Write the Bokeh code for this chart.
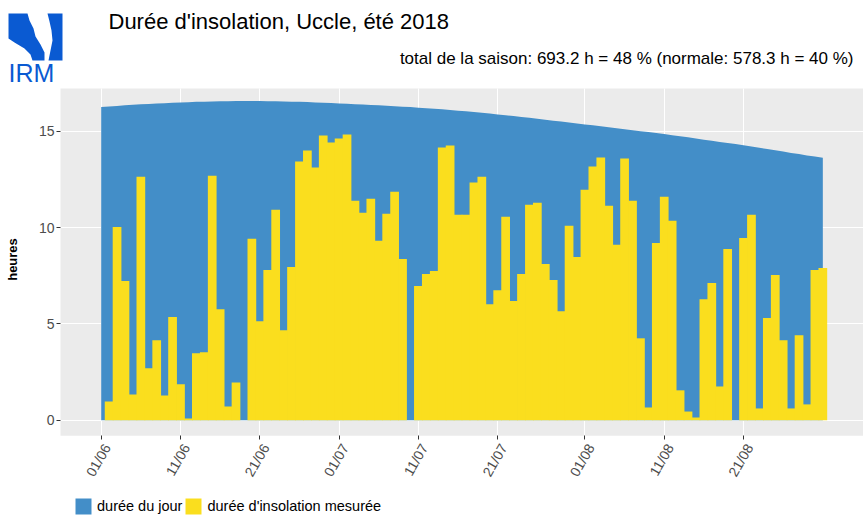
import math
from bokeh.plotting import figure
from bokeh.models import Range1d, FixedTicker, Label, Legend, LegendItem, PolyAnnotation
from bokeh.core.properties import value
from bokeh.embed import file_html
from bokeh.resources import INLINE

# ---------------- data ----------------
days = list(range(92))  # 0 = 01/06/2018 ... 91 = 31/08/2018
tick_days = [0, 10, 20, 30, 40, 50, 61, 71, 81]
tick_labels = ["01/06", "11/06", "21/06", "01/07", "11/07", "21/07", "01/08", "11/08", "21/08"]
y_ticks = [0, 5, 10, 15]

sunshine = [
    0.0, 0.97, 10.03, 7.22, 1.34, 12.64, 2.69, 4.15, 1.28, 5.35, 1.86, 0.09, 3.47, 3.52, 12.69,
    5.76, 0.71, 1.96, 0.0, 9.41, 5.14,
    7.80, 10.92, 4.67, 7.95, 13.42, 13.99, 13.11, 14.77, 14.41, 14.62, 14.83, 11.39, 10.76, 11.49,
    9.31, 10.71, 11.86, 8.37, 0.0, 6.96, 7.59, 7.74, 14.15, 14.25,
    10.66, 10.66, 12.33, 12.64, 6.02, 6.75, 10.56, 6.18, 7.59, 11.18, 11.28, 8.11, 7.27, 5.66,
    10.09, 8.47, 11.96, 13.16, 13.63, 11.13, 9.10, 13.58, 11.39,
    4.25, 0.66, 9.20, 11.60, 10.35, 1.55, 0.45, 0.14, 6.28, 7.12, 1.75, 8.89, 0.0, 9.46, 10.66,
    0.61, 5.30, 7.53, 4.15, 0.61, 4.41, 0.82, 7.80, 7.90,
]

daylength = [
    16.25, 16.28, 16.31, 16.34, 16.37, 16.39, 16.41, 16.43, 16.45, 16.47, 16.49, 16.50, 16.52,
    16.53, 16.54, 16.55, 16.55, 16.56, 16.56, 16.56, 16.56,
    16.55, 16.55, 16.54, 16.53, 16.52, 16.51, 16.49, 16.48, 16.46, 16.44,
    16.42, 16.40, 16.38, 16.36, 16.34, 16.32, 16.29, 16.27, 16.25,
    16.22, 16.19, 16.16, 16.13, 16.10, 16.06, 16.03, 15.99, 15.95, 15.91, 15.87,
    15.83, 15.78, 15.74, 15.69, 15.64, 15.59, 15.54, 15.50, 15.45, 15.40,
    15.35, 15.30, 15.25, 15.20, 15.15, 15.10, 15.05, 15.00, 14.95, 14.90, 14.85, 14.79, 14.73,
    14.68, 14.62, 14.56, 14.50, 14.44, 14.39, 14.33, 14.27, 14.20, 14.14, 14.07, 14.01, 13.94,
    13.87, 13.81, 13.74, 13.68, 13.62,
]

title_text = "Durée d'insolation, Uccle, été 2018"
subtitle_text = "total de la saison: 693.2 h = 48 % (normale: 578.3 h = 40 %)"
legend_labels = ["durée du jour", "durée d'insolation mesurée"]

# ---------------- style / layout ----------------
BLUE = "#438EC8"
YELLOW = "#FADE1E"
LOGO_BLUE = "#0A5AD2"
PANEL = "#EBEBEB"
FONT = "Liberation Sans"

W, H = 863, 518
DAY0_PX, PX_DAY = 100.7, 7.93      # page x of day 0, pixels per day
ZERO_PY, PX_H = 419.7, 19.27       # page y of 0 h, pixels per hour
PANEL_L, PANEL_T, PANEL_B = 60, 88, 435.3
LBL_SHIFT = 8                      # compensation for Label baseline placement


def X(px):
    return (px - DAY0_PX) / PX_DAY


def Y(py):
    return (ZERO_PY - py) / PX_H


p = figure(width=W, height=H, x_range=Range1d(X(0), X(W)), y_range=Range1d(Y(H), Y(0)),
           output_backend="svg", toolbar_location=None,
           min_border_left=0, min_border_right=0, min_border_top=0, min_border_bottom=0)
p.background_fill_color = "white"
p.border_fill_color = "white"
p.outline_line_color = None

# panel background
p.quad(left=X(PANEL_L), right=X(W + 5), bottom=Y(PANEL_B), top=Y(PANEL_T),
       fill_color=PANEL, line_color=None, level="underlay")

# grid, limited to the panel
p.xgrid.ticker = FixedTicker(ticks=tick_days)
p.ygrid.ticker = FixedTicker(ticks=y_ticks)
p.xgrid.cross_bounds = (Y(PANEL_B), Y(PANEL_T))
p.ygrid.cross_bounds = (X(PANEL_L), X(W + 5))
for g in (p.xgrid, p.ygrid):
    g.grid_line_color = "white"
    g.grid_line_width = 1.1
    g.level = "underlay"

# axes at the panel edges
p.xaxis.fixed_location = Y(PANEL_B)
p.yaxis.fixed_location = X(PANEL_L)
p.xaxis.ticker = FixedTicker(ticks=tick_days)
p.xaxis.major_label_overrides = {d: "" for d in tick_days}
p.yaxis.ticker = FixedTicker(ticks=y_ticks)
for ax in (p.xaxis[0], p.yaxis[0]):
    ax.axis_line_color = None
    ax.major_tick_line_color = "#333333"
    ax.major_tick_out = 4
    ax.major_tick_in = 0
    ax.minor_tick_line_color = None
    ax.major_label_text_color = "#4D4D4D"
    ax.major_label_text_font = FONT
    ax.major_label_text_font_size = "14px"
    ax.major_label_standoff = 2
p.yaxis.axis_label = "heures"
p.yaxis.axis_label_text_font = FONT
p.yaxis.axis_label_text_font_style = "bold"
p.yaxis.axis_label_text_font_size = "13px"
p.yaxis.axis_label_text_color = "black"
p.yaxis.axis_label_standoff = 16

# rotated date labels anchored at their top-right corner (like ggplot hjust=1, vjust=1)
p.text(x=tick_days, y=[Y(440.5)] * len(tick_days), text=tick_labels, angle=math.pi / 3,
       x_offset=-1, text_align="right", text_baseline="top",
       text_font=value(FONT), text_font_size="14px", text_color="#4D4D4D")

# data marks
r_day = p.varea(x=days, y1=0, y2=daylength, fill_color=BLUE)
r_sun = p.vbar(x=days, top=sunshine, width=1.1, fill_color=YELLOW, line_color=None)

legend = Legend(items=[LegendItem(label=legend_labels[0], renderers=[r_day]),
                       LegendItem(label=legend_labels[1], renderers=[r_sun])],
                orientation="horizontal", location=(73, 2),
                glyph_width=20, glyph_height=20, label_standoff=4, spacing=1,
                padding=0, margin=0, border_line_color=None, background_fill_alpha=0,
                label_text_font=FONT, label_text_font_size="14.5px", label_text_color="black")
p.add_layout(legend, "center")

# titles
p.add_layout(Label(x=X(108), y=Y(29 - LBL_SHIFT), text=title_text, text_font=FONT,
                   text_font_size="22px", text_color="black",
                   text_align="left", text_baseline="alphabetic"))
p.add_layout(Label(x=X(853), y=Y(66 - LBL_SHIFT), text=subtitle_text, text_font=FONT,
                   text_font_size="17px", text_color="black",
                   text_align="right", text_baseline="alphabetic"))

# logo
left_piece = [(8, 13), (27, 13), (29, 20), (33, 28), (35, 36), (40, 44), (44, 52), (44, 60),
              (32, 60), (30, 54), (24, 48), (14, 42), (8, 38)]
right_piece = [(47, 13), (62, 13), (62, 60), (48, 60), (50, 50), (52, 40), (51, 30), (49, 21)]
for piece in (left_piece, right_piece):
    p.add_layout(PolyAnnotation(xs=[X(a) for a, b in piece], ys=[Y(b) for a, b in piece],
                                fill_color=LOGO_BLUE, fill_alpha=1.0, line_color=None))
p.add_layout(Label(x=X(8), y=Y(80 - LBL_SHIFT), text="IRM", text_font=FONT, text_font_size="25px",
                   text_color=LOGO_BLUE, text_align="left", text_baseline="alphabetic"))

open("out.html", "w").write(file_html(p, INLINE))
